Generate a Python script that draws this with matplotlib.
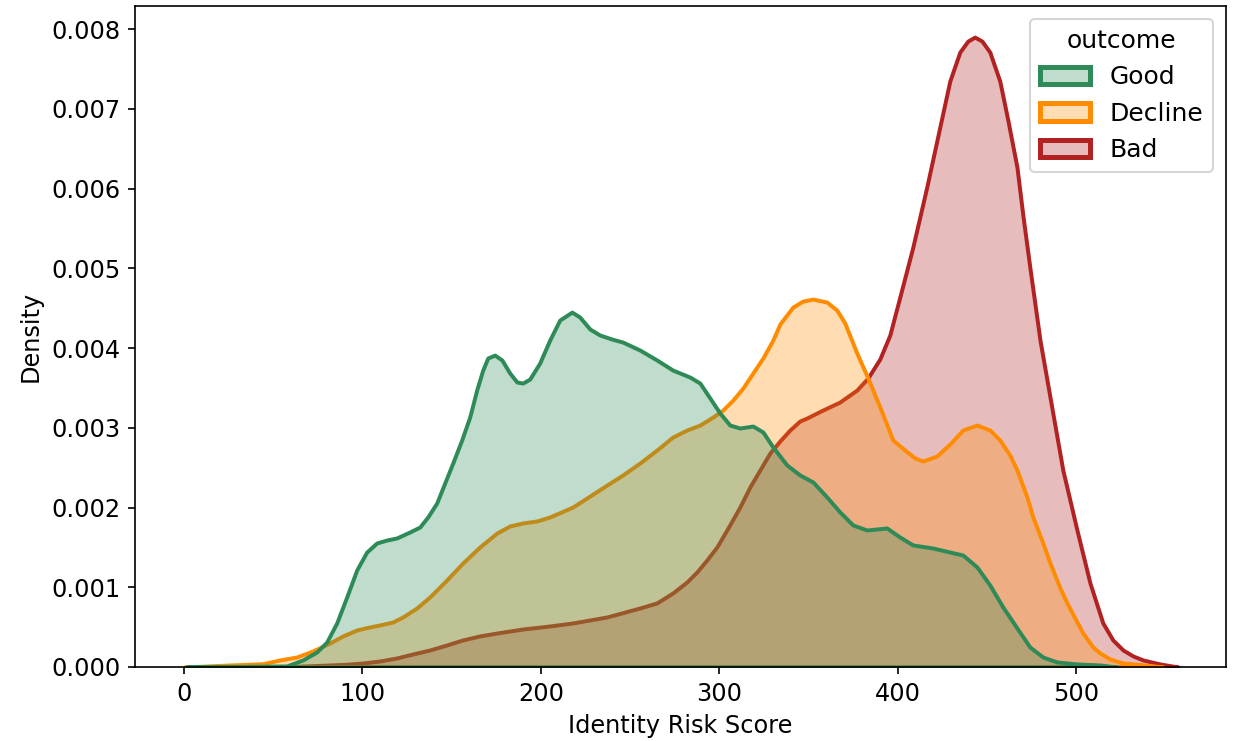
import numpy as np
import matplotlib
matplotlib.use("Agg")
import matplotlib.pyplot as plt
from matplotlib.colors import to_rgba
from matplotlib.patches import Patch

# Density curves (x = Identity Risk Score, y = density * 1000)
good_x = [1.7, 57.7, 66.7, 74.5, 80.1, 85.7, 91.3, 96.9, 102.5, 108.1, 113.7, 119.3, 126.6,
          132.2, 136.7, 141.7, 146.2, 150.7, 155.7, 160.2, 164.1, 167.5, 170.3, 174.2, 178.2,
          182.6, 186.6, 189.9, 193.8, 199.4, 205.0, 210.6, 217.4, 221.8, 227.5, 233.1, 239.8,
          245.9, 255.5, 265.0, 273.9, 283.5, 289.1, 294.7, 300.3, 305.9, 311.5, 318.8, 324.4,
          330.0, 337.8, 345.1, 352.4, 360.2, 367.5, 374.8, 382.6, 393.8, 401.1, 408.4, 419.6,
          429.1, 436.4, 444.3, 451.5, 458.8, 466.7, 473.9, 481.2, 489.1, 500.3, 513.2, 522.7]
good_y = [0.0, 0.013, 0.088, 0.188, 0.313, 0.552, 0.878, 1.216, 1.442, 1.555, 1.592, 1.618, 1.693,
          1.755, 1.881, 2.056, 2.307, 2.558, 2.846, 3.135, 3.473, 3.724, 3.875, 3.912, 3.850,
          3.687, 3.574, 3.561, 3.611, 3.812, 4.100, 4.351, 4.451, 4.389, 4.238, 4.163, 4.113,
          4.075, 3.975, 3.850, 3.724, 3.636, 3.561, 3.373, 3.185, 3.034, 2.997, 3.022, 2.947,
          2.759, 2.533, 2.408, 2.320, 2.132, 1.944, 1.781, 1.718, 1.743, 1.630, 1.530, 1.492,
          1.442, 1.404, 1.254, 1.028, 0.752, 0.489, 0.251, 0.125, 0.063, 0.038, 0.025, 0.0]

decline_x = [0.6, 25.8, 44.3, 53.8, 63.3, 72.3, 81.8, 89.1, 96.9, 104.2, 109.8, 117.1, 122.7,
             130.5, 137.8, 147.3, 156.3, 165.8, 175.4, 182.6, 189.9, 197.8, 205.0, 217.9, 227.5,
             237.0, 245.9, 255.5, 265.0, 273.9, 281.8, 289.1, 296.4, 302.0, 307.6, 313.2, 318.8,
             324.4, 330.0, 333.9, 341.2, 346.8, 352.4, 360.2, 365.8, 370.3, 377.0, 383.2, 389.9,
             397.2, 403.9, 409.5, 414.0, 421.8, 429.1, 436.4, 444.3, 451.5, 457.1, 462.7, 466.7,
             472.3, 475.6, 481.2, 485.2, 490.8, 494.7, 500.3, 503.6, 509.2, 513.2, 518.8, 526.1,
             535.6, 548.5]
decline_y = [0.0, 0.025, 0.041, 0.088, 0.125, 0.201, 0.301, 0.389, 0.464, 0.502, 0.527, 0.564, 0.627,
             0.740, 0.878, 1.091, 1.304, 1.505, 1.680, 1.768, 1.806, 1.831, 1.881, 2.006, 2.144,
             2.282, 2.408, 2.558, 2.721, 2.884, 2.972, 3.034, 3.135, 3.223, 3.348, 3.498, 3.687,
             3.875, 4.100, 4.301, 4.514, 4.589, 4.614, 4.577, 4.476, 4.313, 3.937, 3.624, 3.260,
             2.846, 2.721, 2.621, 2.583, 2.646, 2.796, 2.972, 3.034, 2.972, 2.846, 2.658, 2.470,
             2.132, 1.881, 1.555, 1.304, 0.991, 0.803, 0.564, 0.426, 0.251, 0.176, 0.100, 0.050,
             0.031, 0.0]

bad_x = [53.8, 81.8, 91.3, 100.3, 109.8, 119.3, 128.3, 137.8, 147.3, 156.3, 165.8, 175.4, 189.9,
         205.0, 217.9, 237.0, 255.5, 265.0, 273.9, 281.8, 287.4, 293.0, 298.6, 304.2, 311.5,
         317.1, 322.7, 328.3, 333.9, 339.5, 345.1, 349.0, 358.0, 367.5, 377.0, 383.2, 389.9,
         395.5, 401.1, 408.4, 416.2, 423.5, 429.1, 434.7, 439.2, 443.1, 447.1, 451.5, 457.1,
         461.6, 466.7, 470.0, 473.9, 479.6, 485.2, 492.4, 500.3, 507.6, 514.8, 520.4, 526.1,
         531.7, 537.3, 546.8, 556.9]
bad_y = [0.0, 0.025, 0.034, 0.050, 0.075, 0.113, 0.163, 0.213, 0.276, 0.339, 0.389, 0.426, 0.476,
         0.514, 0.552, 0.627, 0.740, 0.803, 0.928, 1.066, 1.191, 1.342, 1.505, 1.718, 2.006,
         2.257, 2.470, 2.683, 2.834, 2.972, 3.085, 3.122, 3.223, 3.323, 3.473, 3.624, 3.862,
         4.163, 4.639, 5.266, 6.019, 6.771, 7.348, 7.712, 7.850, 7.900, 7.850, 7.712, 7.348,
         6.859, 6.270, 5.668, 5.016, 4.100, 3.386, 2.470, 1.718, 1.053, 0.552, 0.339, 0.213,
         0.138, 0.088, 0.038, 0.0]

outcomes = ['Good', 'Decline', 'Bad']
colors = {'Good': '#2e8b57', 'Decline': '#ff8c00', 'Bad': '#b22222'}
curves = {'Good': (good_x, good_y), 'Decline': (decline_x, decline_y), 'Bad': (bad_x, bad_y)}

fig = plt.figure(figsize=(8.24, 4.94), dpi=150)
ax = fig.add_axes([0.1092, 0.0999, 0.8827, 0.8920])

# draw in reverse so Good ends up on top (same as seaborn hue order)
for name in reversed(outcomes):
    x, y = curves[name]
    y = np.array(y) * 1e-3
    ax.fill_between(x, y, facecolor=to_rgba(colors[name], 0.3),
                    edgecolor=colors[name], linewidth=1.9, joinstyle='round')

ax.set_xlim(-27.3, 583.8)
ax.set_ylim(0, 0.00829)
ax.set_xticks([0, 100, 200, 300, 400, 500])
yt = np.arange(0, 0.0081, 0.001)
ax.set_yticks(yt)
ax.set_yticklabels(['%.3f' % v for v in yt])
ax.tick_params(labelsize=11.5)
ax.set_xlabel('Identity Risk Score', fontsize=11.5)
ax.set_ylabel('Density', fontsize=11.5)

handles = [Patch(facecolor=to_rgba(colors[n], 0.3), edgecolor=colors[n], linewidth=2.4, label=n)
           for n in outcomes]
ax.legend(handles=handles, title='outcome', loc='upper right', fontsize=12, title_fontsize=12)

fig.savefig('out.png', dpi=150)
